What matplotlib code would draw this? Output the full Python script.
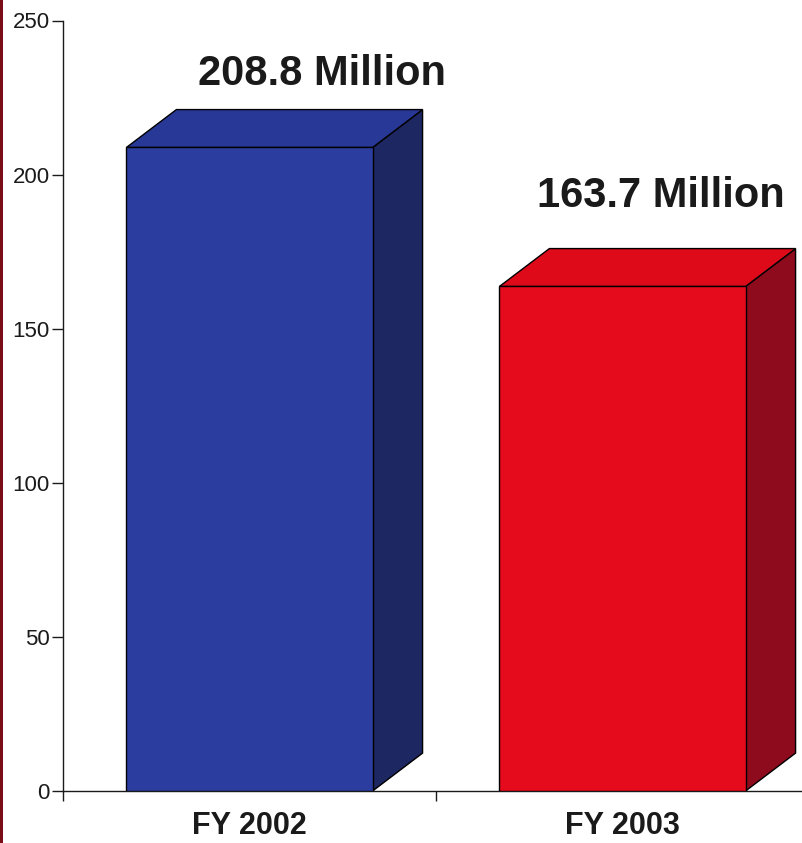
# Two-year comparison drawn as pseudo-3D bars

import matplotlib.pyplot as plt
from matplotlib.patches import Polygon, Rectangle

years = ['FY 2002', 'FY 2003']
values = [208.8, 163.7]
value_labels = ['208.8 Million', '163.7 Million']
yticks = [0, 50, 100, 150, 200, 250]

front_colors = ['#2b3ea0', '#e50a1c']
top_colors = ['#283897', '#de0a1a']
side_colors = ['#1d2761', '#8e0b1d']

BAR_WIDTH = 0.66
DEPTH_X = 0.134   # category units
DEPTH_Y = 12.3    # value units
LABEL_SHIFT = [0.194, 0.103]
LABEL_RISE = [20.3, 25.8]

plt.rcParams['font.family'] = ['Liberation Sans', 'DejaVu Sans']

fig = plt.figure(figsize=(8.02, 8.43), dpi=100)
# axes runs a little past the right edge so the second category is cut off
ax = fig.add_axes([63 / 802, 52 / 843, 746 / 802, 770.5 / 843])

# thin dark red strip down the left edge
fig.patches.append(Rectangle((0, 0), 3 / 802, 1, transform=fig.transFigure,
                             facecolor='#7a0c16', edgecolor='none'))

centers = [i + 0.5 for i in range(len(values))]
for i, (x, v) in enumerate(zip(centers, values)):
    left, right = x - BAR_WIDTH / 2, x + BAR_WIDTH / 2
    # side face
    ax.add_patch(Polygon([(right, 0), (right + DEPTH_X, DEPTH_Y),
                          (right + DEPTH_X, v + DEPTH_Y), (right, v)],
                         closed=True, facecolor=side_colors[i],
                         edgecolor='black', linewidth=1.0, zorder=2))
    # top face
    ax.add_patch(Polygon([(left, v), (right, v),
                          (right + DEPTH_X, v + DEPTH_Y), (left + DEPTH_X, v + DEPTH_Y)],
                         closed=True, facecolor=top_colors[i],
                         edgecolor='black', linewidth=1.0, zorder=2))
    ax.text(x + LABEL_SHIFT[i], v + LABEL_RISE[i], value_labels[i],
            ha='center', va='baseline', fontsize=30, fontweight='bold', color='#1a1a1a')

# front faces
ax.bar(centers, values, width=BAR_WIDTH, color=front_colors,
       edgecolor='black', linewidth=1.0, zorder=3)

ax.set_xlim(0, 2)
ax.set_ylim(0, 250)
ax.set_yticks(yticks)
ax.set_xticks([0, 1, 2])
ax.set_xticklabels([])
ax.set_xticks(centers, minor=True)
ax.set_xticklabels(years, minor=True, fontsize=22, fontweight='bold', color='#1a1a1a')

ax.tick_params(axis='y', length=8, width=1, pad=1.5, labelsize=16, colors='#1a1a1a')
ax.tick_params(axis='x', which='major', length=7.5, width=1, colors='#1a1a1a')
ax.tick_params(axis='x', which='minor', length=0, pad=14.5)

for side in ['top', 'right']:
    ax.spines[side].set_visible(False)
for side in ['left', 'bottom']:
    ax.spines[side].set_linewidth(1.0)
    ax.spines[side].set_color('#1a1a1a')
ax.spines['left'].set_bounds(0, 250)

fig.savefig('out.png', dpi=100)
